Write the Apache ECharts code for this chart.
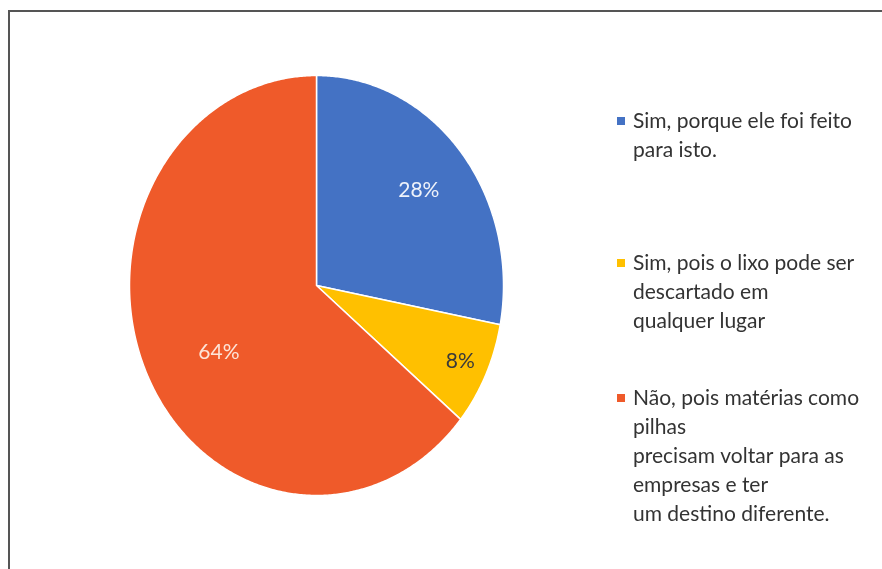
<!DOCTYPE html>
<html>
<head>
<meta charset="utf-8">
<script src="https://cdn.jsdelivr.net/npm/echarts@6/dist/echarts.min.js"></script>
<style>
  html, body { margin: 0; padding: 0; background: #ffffff; }
  #chart { width: 882px; height: 569px; }
</style>
</head>
<body>
<div id="chart"></div>
<script>
// Answer categories (line breaks as shown in the legend) and their shares in %
const categories = [
  'Sim, porque ele foi feito\npara isto.',
  'Sim, pois o lixo pode ser\ndescartado em\nqualquer lugar',
  'Não, pois matérias como\npilhas\nprecisam voltar para as\nempresas e ter\num destino diferente.'
];
const shares = [28, 8, 64];

// Slice colours and label colours
const colors = ['#4472C4', '#FFC000', '#EF5A2A'];
const labelColors = ['#eef2fa', '#3a3a3a', '#fde4d8'];

// Elliptical pie geometry (pixels) and label placement (fraction of radius, angular nudge in degrees)
const CX = 316.5, CY = 285.5, RX = 187, RY = 210;
const labelRadius = [0.71, 0.85, 0.61];
const labelTurn = [0, 0, -6];
// Vertical centre of each legend entry's marker
const legendMarkerY = [121, 263, 398];
const LINE_H = 29;

const total = shares.reduce((a, b) => a + b, 0);

function sliceRenderer(k) {
  return function (params, api) {
    const v = api.value(0);
    const before = shares.slice(0, k).reduce((a, b) => a + b, 0);
    const a0 = before / total * 2 * Math.PI;
    const a1 = (before + v) / total * 2 * Math.PI;
    const steps = Math.max(2, Math.ceil((a1 - a0) / (Math.PI / 360)));
    const pts = [[CX, CY]];
    for (let i = 0; i <= steps; i++) {
      const a = a0 + (a1 - a0) * i / steps;
      pts.push([CX + RX * Math.sin(a), CY - RY * Math.cos(a)]);
    }
    const am = (a0 + a1) / 2 + labelTurn[k] * Math.PI / 180;
    const r = labelRadius[k];
    return {
      type: 'group',
      children: [
        {
          type: 'polygon',
          shape: { points: pts },
          style: { fill: api.visual('color'), stroke: '#ffffff', lineWidth: 1.5, lineJoin: 'round' }
        },
        {
          type: 'text',
          x: CX + RX * r * Math.sin(am),
          y: CY - RY * r * Math.cos(am),
          z2: 10,
          style: {
            text: Math.round(v / total * 100) + '%',
            fill: labelColors[k],
            font: '21px Lato',
            align: 'center',
            verticalAlign: 'middle'
          }
        }
      ]
    };
  };
}

const series = categories.map((name, k) => ({
  type: 'custom',
  name: name,
  coordinateSystem: 'none',
  itemStyle: { color: colors[k] },
  renderItem: sliceRenderer(k),
  data: [shares[k]],
  silent: true
}));

// One legend per entry so that each marker sits beside the first line of its text;
// an invisible spacer line above the text pushes the block down by (lines - 1) rows.
const legends = categories.map((name, k) => {
  const n = name.split('\n').length;
  const gap = (n - 1) * LINE_H;
  return {
    data: [name],
    left: 617,
    top: legendMarkerY[k] - (2 * n - 1) * LINE_H / 2,
    padding: 0,
    icon: 'rect',
    itemWidth: 8,
    itemHeight: 8,
    itemGap: 0,
    selectedMode: false,
    formatter: (label) => '{gap|\u00a0}\n' + label.split('\n').map(s => '{t|' + s + '}').join('\n'),
    textStyle: {
      fontFamily: 'Lato',
      fontSize: 21,
      color: '#333333',
      rich: {
        gap: { lineHeight: gap, height: gap, fontSize: 21 },
        t: { fontFamily: 'Lato', fontSize: 21, color: '#333333', lineHeight: LINE_H, padding: [0, 0, 0, 3] }
      }
    }
  };
});

const chart = echarts.init(document.getElementById('chart'), null, { renderer: 'canvas' });
chart.setOption({
  animation: false,
  backgroundColor: '#ffffff',
  legend: legends,
  graphic: [
    {
      type: 'polyline',
      shape: { points: [[9, 569], [9, 11], [882, 11]] },
      style: { stroke: '#555555', lineWidth: 2, fill: null }
    }
  ],
  series: series
});
</script>
</body>
</html>
